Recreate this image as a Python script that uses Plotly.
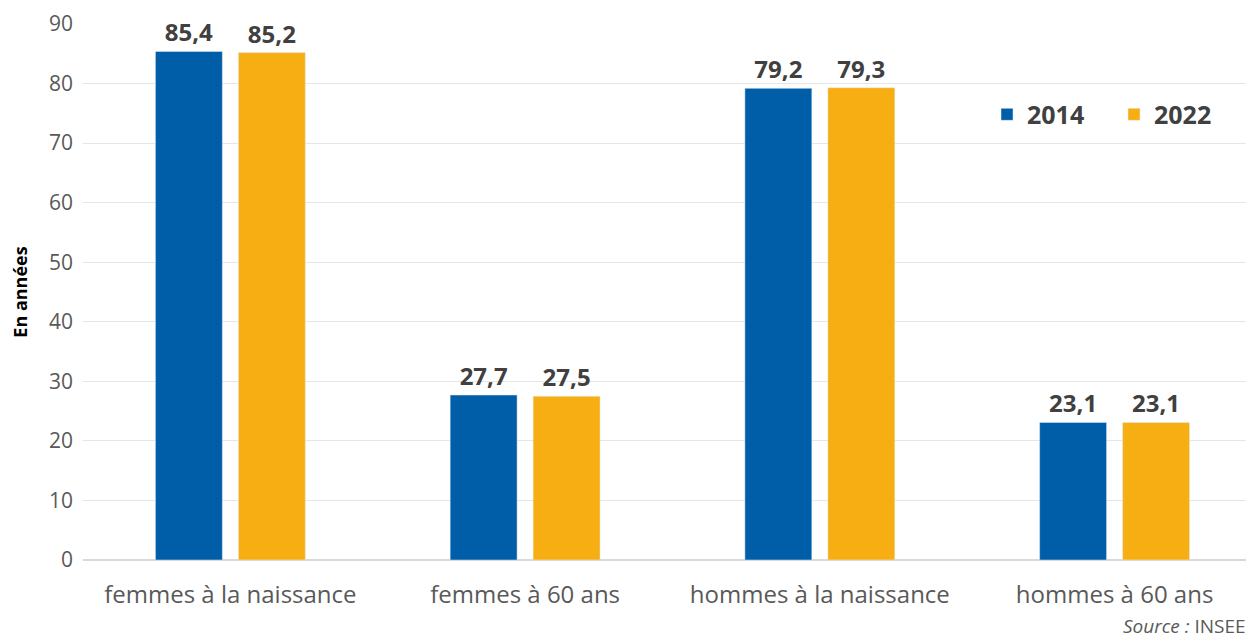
import plotly.graph_objects as go

categories = ["femmes à la naissance", "femmes à 60 ans", "hommes à la naissance", "hommes à 60 ans"]
vals_2014 = [85.4, 27.7, 79.2, 23.1]
vals_2022 = [85.2, 27.5, 79.3, 23.1]


def fmt(v):
    return "<b>" + f"{v:.1f}".replace(".", ",") + "</b>"


fig = go.Figure()

fig.add_trace(go.Bar(
    x=categories, y=vals_2014, name="<b>2014</b>",
    marker=dict(color="#005EA8"),
    text=[fmt(v) for v in vals_2014], textposition="outside",
    textfont=dict(size=24, color="#404040", family="Open Sans"),
    cliponaxis=False,
))
fig.add_trace(go.Bar(
    x=categories, y=vals_2022, name="<b>2022</b>",
    marker=dict(color="#F7AE12"),
    text=[fmt(v) for v in vals_2022], textposition="outside",
    textfont=dict(size=24, color="#404040", family="Open Sans"),
    cliponaxis=False,
))

# the page adds an 8px body margin, so the figure is 8px smaller than the window
fig.update_layout(
    width=1246, height=636,
    margin=dict(l=75, r=0, t=16, b=84),
    plot_bgcolor="white", paper_bgcolor="white",
    font=dict(family="Open Sans", color="#595959"),
    barmode="group", bargap=0.437, bargroupgap=0.193,
    showlegend=True,
    legend=dict(
        orientation="h", x=0.772, y=0.831, xanchor="left", yanchor="middle",
        font=dict(size=25, color="#404040"),
        itemwidth=30, traceorder="normal", entrywidth=82, entrywidthmode="pixels",
    ),
    xaxis=dict(
        range=[-0.5, 3.473], showgrid=False, showline=False, automargin=False,
        tickfont=dict(size=24, color="#595959"), ticks="", ticklabelstandoff=18,
    ),
    yaxis=dict(
        range=[0, 90], dtick=10, showgrid=True, gridcolor="#E6E6E6", gridwidth=1,
        zeroline=True, zerolinecolor="#D9D9D9", zerolinewidth=2, automargin=False,
        tickfont=dict(size=21, color="#595959"), ticklabelstandoff=9,
        title=dict(text="<b>En années</b>", font=dict(size=18, color="#000000"), standoff=18),
    ),
    annotations=[dict(
        text="<i>Source :</i> INSEE", x=1.0, y=0, xref="paper", yref="paper",
        xanchor="right", yanchor="middle", yshift=-66, xshift=-6, showarrow=False,
        font=dict(size=19, color="#595959"),
    )],
)

fig.write_html("out.html")
